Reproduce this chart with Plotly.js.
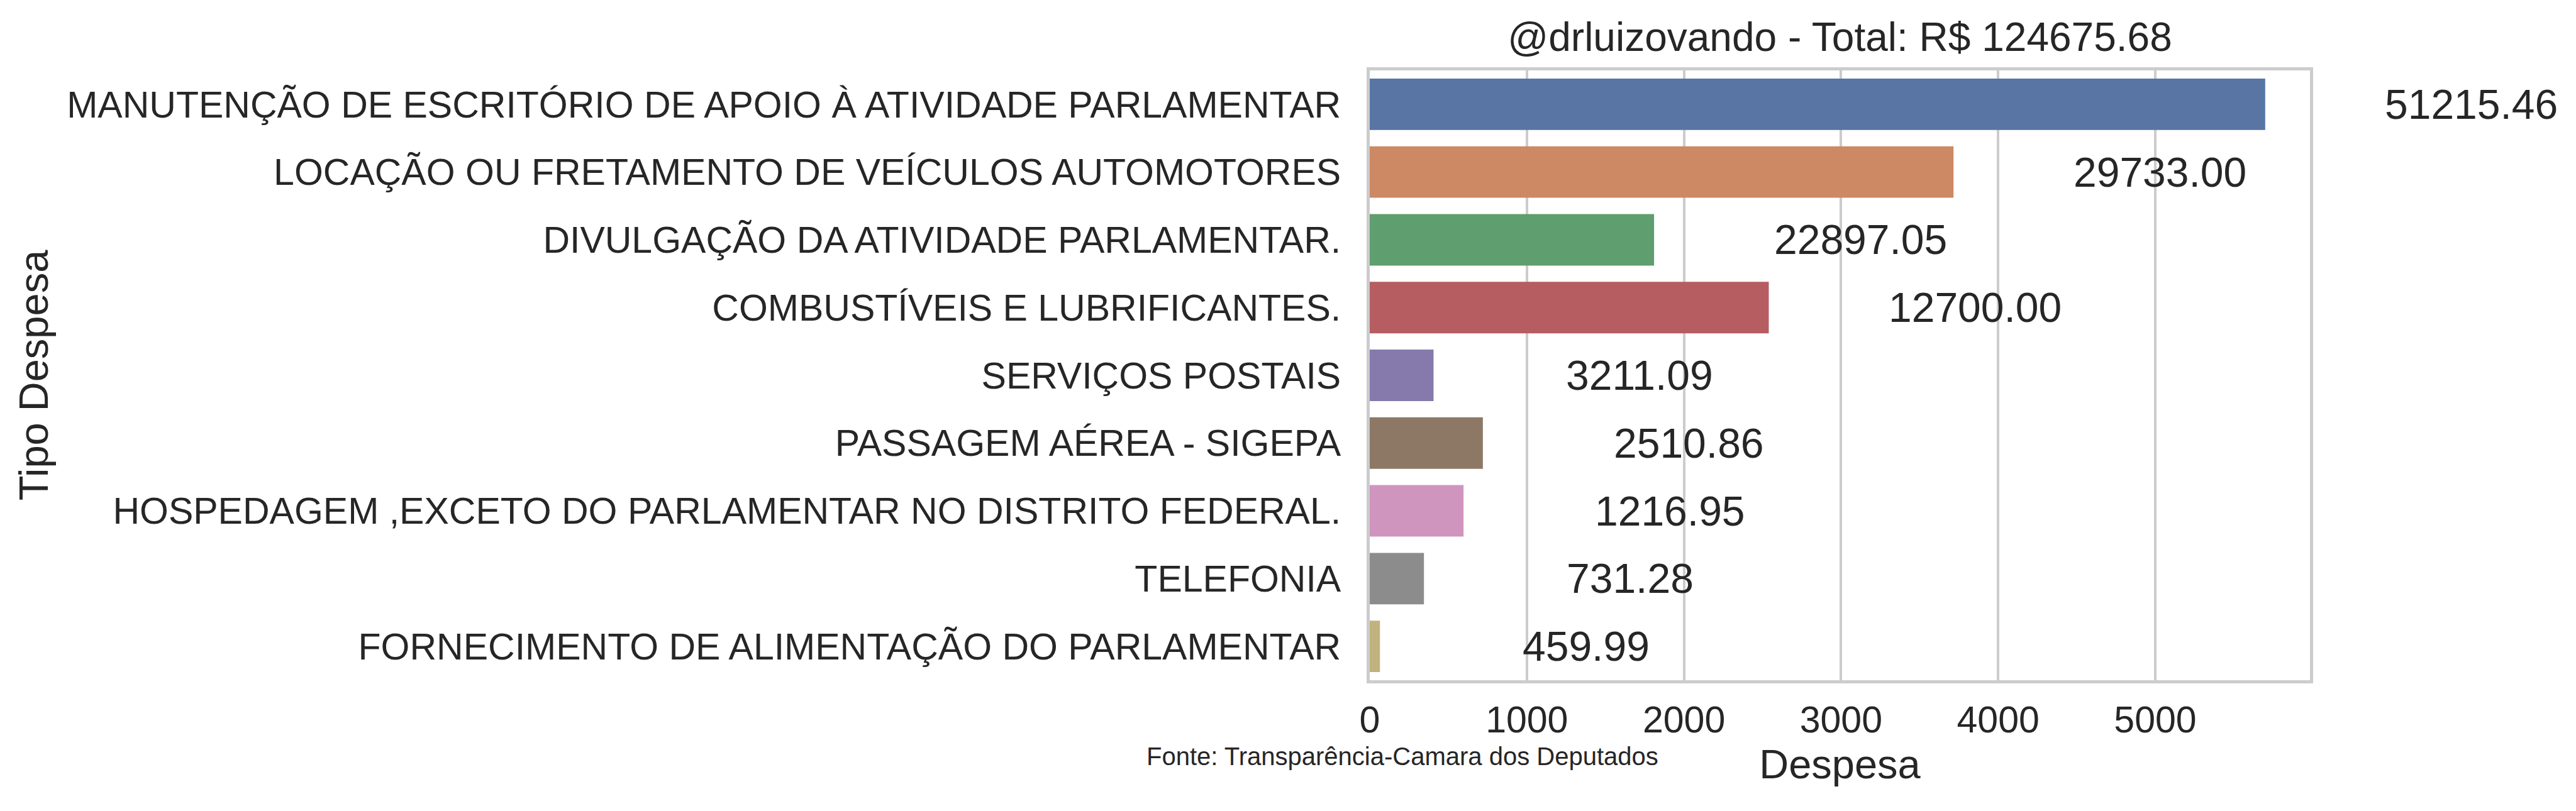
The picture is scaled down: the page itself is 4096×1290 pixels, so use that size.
<!DOCTYPE html>
<html>
<head>
<meta charset="utf-8">
<script src="https://cdn.plot.ly/plotly-3.0.1.min.js"></script>
<style>html,body{margin:0;padding:0;background:#fff;}#chart{width:4096px;height:1290px;}</style>
</head>
<body>
<div id="chart"></div>
<script>
// ---- data ----
const categories = [
  "MANUTENÇÃO DE ESCRITÓRIO DE APOIO À ATIVIDADE PARLAMENTAR",
  "LOCAÇÃO OU FRETAMENTO DE VEÍCULOS AUTOMOTORES",
  "DIVULGAÇÃO DA ATIVIDADE PARLAMENTAR.",
  "COMBUSTÍVEIS E LUBRIFICANTES.",
  "SERVIÇOS POSTAIS",
  "PASSAGEM AÉREA - SIGEPA",
  "HOSPEDAGEM ,EXCETO DO PARLAMENTAR NO DISTRITO FEDERAL.",
  "TELEFONIA",
  "FORNECIMENTO DE ALIMENTAÇÃO DO PARLAMENTAR"
];
const barValues = [5700, 3716, 1810, 2540, 406, 720, 597, 345, 65];
const totals = [51215.46, 29733.00, 22897.05, 12700.00, 3211.09, 2510.86, 1216.95, 731.28, 459.99];
const barColors = ["#5875a4", "#cc8963", "#5f9e6e", "#b55d60", "#857aab", "#8d7866", "#d095bf", "#8c8c8c", "#c1b37f"];
const xTickVals = [0, 1000, 2000, 3000, 4000, 5000];
const handle = "@drluizovando";
const sourceNote = "Fonte: Transparência-Camara dos Deputados";

// ---- layout constants ----
const W = 4096, H = 1290;
const M = {l: 2178, r: 423, t: 112, b: 208};
const plotW = W - M.l - M.r, plotH = H - M.t - M.b;
const px2paperX = px => (px - M.l) / plotW;
const px2paperY = py => 1 - (py - M.t) / plotH;
const FONT = "Liberation Sans, Arial, sans-serif";
const TXT = "#262626";
const GRID = "#cccccc";
const labelOffset = 1313;           // value labels sit to the right of each bar (data units)
const xRange = [0, Math.max(...barValues) * 1.05];
const xToPaper = v => (v - xRange[0]) / (xRange[1] - xRange[0]);

const grandTotal = totals.reduce((a, b) => a + b, 0);

const bars = {
  type: "bar",
  orientation: "h",
  x: barValues,
  y: categories,
  marker: {color: barColors, line: {width: 0}},
  hoverinfo: "x+y",
  showlegend: false
};

// value labels: placed with the x axis scale (converted to paper so the widest one may leave the frame)
const valueLabels = totals.map((t, i) => ({
  text: t.toFixed(2),
  xref: "paper", yref: "y",
  x: xToPaper(barValues[i] + labelOffset), xanchor: "center",
  y: i, yanchor: "middle",
  showarrow: false,
  font: {family: FONT, size: 66, color: TXT}
}));

const layout = {
  width: W, height: H,
  margin: M,
  paper_bgcolor: "#ffffff",
  plot_bgcolor: "#ffffff",
  bargap: 0.24,
  font: {family: FONT, color: TXT},
  title: {
    text: handle + " - Total: R$ " + grandTotal.toFixed(2),
    font: {family: FONT, size: 64, color: TXT},
    x: 0.5, xref: "paper", xanchor: "center",
    y: 1 - 59 / H, yref: "container", yanchor: "middle"
  },
  xaxis: {
    range: xRange,
    tickvals: xTickVals,
    ticktext: xTickVals.map(String),
    showgrid: true, gridcolor: GRID, gridwidth: 4,
    zeroline: false,
    showline: true, linecolor: GRID, linewidth: 5, mirror: true,
    ticks: "",
    ticklabelstandoff: 7,
    tickfont: {family: FONT, size: 59, color: TXT},
    title: {text: "Despesa", font: {family: FONT, size: 65, color: TXT}, standoff: 17},
    fixedrange: true
  },
  yaxis: {
    type: "category",
    categoryorder: "array",
    categoryarray: categories,
    autorange: "reversed",
    showgrid: false,
    zeroline: false,
    showline: true, linecolor: GRID, linewidth: 5, mirror: true,
    ticks: "",
    ticklabelstandoff: 29,
    tickfont: {family: FONT, size: 59, color: TXT},
    title: {text: "Tipo Despesa", font: {family: FONT, size: 65, color: TXT}, standoff: 10},
    fixedrange: true
  },
  annotations: valueLabels.concat([{
    text: sourceNote,
    xref: "paper", yref: "paper",
    x: px2paperX(1821), xanchor: "left",
    y: px2paperY(1203), yanchor: "middle",
    showarrow: false,
    font: {family: FONT, size: 40, color: TXT}
  }])
};

Plotly.newPlot("chart", [bars], layout, {staticPlot: true, displayModeBar: false});
</script>
</body>
</html>
